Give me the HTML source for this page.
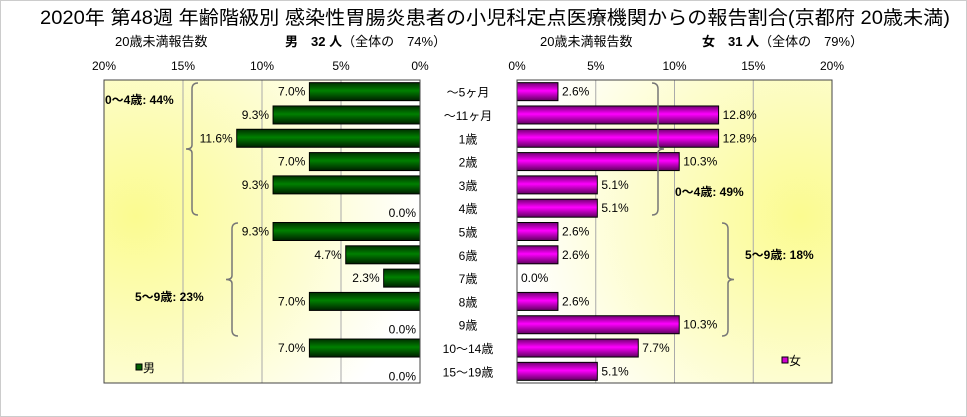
<!DOCTYPE html>
<html><head><meta charset="utf-8"><style>
body{margin:0;background:#fff;}
svg{display:block;font-family:"Liberation Sans","Noto Sans CJK JP",sans-serif;}
</style></head><body>
<svg width="967" height="417" viewBox="0 0 967 417">
<defs>
<radialGradient id="bgL" cx="0.1" cy="0.45" r="0.9">
<stop offset="0" stop-color="#fbfb90"/><stop offset="0.6" stop-color="#fdfdd0"/><stop offset="1" stop-color="#ffffff"/></radialGradient>
<radialGradient id="bgR" cx="0.9" cy="0.45" r="0.9">
<stop offset="0" stop-color="#fbfb90"/><stop offset="0.6" stop-color="#fdfdd0"/><stop offset="1" stop-color="#ffffff"/></radialGradient>
<linearGradient id="gG" x1="0" y1="0" x2="0" y2="1">
<stop offset="0" stop-color="#003000"/><stop offset="0.45" stop-color="#008000"/><stop offset="1" stop-color="#002000"/></linearGradient>
<linearGradient id="gM" x1="0" y1="0" x2="0" y2="1">
<stop offset="0" stop-color="#700070"/><stop offset="0.45" stop-color="#ff00ff"/><stop offset="1" stop-color="#600060"/></linearGradient>
</defs>
<rect x="0.5" y="0.5" width="966" height="416" fill="#fff" stroke="#ccc"/>
<text x="495" y="24" text-anchor="middle" font-size="19" textLength="910" lengthAdjust="spacingAndGlyphs" fill="#000">2020年 第48週 年齢階級別 感染性胃腸炎患者の小児科定点医療機関からの報告割合(京都府 20歳未満)</text>
<text x="115" y="46" font-size="13">20歳未満報告数</text>
<text x="285" y="46" font-size="13"><tspan font-weight="bold">男　32 人</tspan>（全体の　74%）</text>
<text x="540" y="46" font-size="13">20歳未満報告数</text>
<text x="702" y="46" font-size="13"><tspan font-weight="bold">女　31 人</tspan>（全体の　79%）</text>
<g id="g"></g>
</svg>
<script>
const categories=["～5ヶ月","～11ヶ月","1歳","2歳","3歳","4歳","5歳","6歳","7歳","8歳","9歳","10～14歳","15～19歳"];
const maleValues=[7.0,9.3,11.6,7.0,9.3,0.0,9.3,4.7,2.3,7.0,0.0,7.0,0.0];
const femaleValues=[2.6,12.8,12.8,10.3,5.1,5.1,2.6,2.6,0.0,2.6,10.3,7.7,5.1];
const tickValues=[0,5,10,15,20];
const tickLabels=["0%","5%","10%","15%","20%"];
const NS="http://www.w3.org/2000/svg";
const g=document.getElementById('g');
const top0=80,bot=383,rowH=(bot-top0)/categories.length,barH=18;
const L0=420,L20=104,R0=517,R20=832;
const xL=v=>L0-(v/20)*(L0-L20);
const xR=v=>R0+(v/20)*(R20-R0);
const y=i=>top0+rowH*(i+0.5);
function mk(t,a){const e=document.createElementNS(NS,t);for(const k in a)e.setAttribute(k,a[k]);g.appendChild(e);return e;}
let e=mk('rect',{x:L20,y:top0,width:L0-L20,height:bot-top0,fill:'url(#bgL)'});


e=mk('rect',{x:R0,y:top0,width:R20-R0,height:bot-top0,fill:'url(#bgR)'});


tickValues.forEach((v,i)=>{
 if(v>0&&v<20){
  e=mk('line',{x1:xL(v),x2:xL(v),y1:top0,y2:bot,stroke:'#aaa'});
  
  
  e=mk('line',{x1:xR(v),x2:xR(v),y1:top0,y2:bot,stroke:'#aaa'});
  
  
 }
 e=mk('text',{x:xL(v),y:70,'text-anchor':'middle','font-size':12});
 e.textContent=tickLabels[i];
 
 
 e=mk('text',{x:xR(v),y:70,'text-anchor':'middle','font-size':12});
 e.textContent=tickLabels[i];
 
 
});
categories.forEach((c,i)=>{
 const yc=y(i);
 const m=maleValues[i],f=femaleValues[i];
 if(m>0){e=mk('rect',{x:xL(m),y:yc-barH/2,width:L0-xL(m),height:barH,fill:'url(#gG)',stroke:'#000'});
 
 }
 e=mk('text',{x:xL(m)-4,y:yc+(m>0?4:9),'text-anchor':'end','font-size':12});
 e.textContent=m.toFixed(1)+'%';
 
 
 if(f>0){e=mk('rect',{x:R0,y:yc-barH/2,width:xR(f)-R0,height:barH,fill:'url(#gM)',stroke:'#000'});
 
 }
 e=mk('text',{x:xR(f)+4,y:yc+4,'text-anchor':'start','font-size':12});
 e.textContent=f.toFixed(1)+'%';
 
 
 e=mk('text',{x:468,y:yc+5,'text-anchor':'middle','font-size':12});
 e.textContent=c;
 
 
});
e=mk('rect',{x:L20,y:top0,width:L0-L20,height:bot-top0,fill:'none',stroke:'#444'});


e=mk('rect',{x:R0,y:top0,width:R20-R0,height:bot-top0,fill:'none',stroke:'#444'});


function brace(x,y1,y2,dir){const ym=(y1+y2)/2,d=dir*6;
 return `M${x+d},${y1} Q${x},${y1} ${x},${y1+6} L${x},${ym-4} Q${x},${ym} ${x-d},${ym} Q${x},${ym} ${x},${ym+4} L${x},${y2-6} Q${x},${y2} ${x+d},${y2}`;}
e=mk('path',{d:brace(192,83,215,1),fill:'none',stroke:'#777','stroke-width':1.5});


e=mk('path',{d:brace(232,223,336,1),fill:'none',stroke:'#777','stroke-width':1.5});


e=mk('path',{d:brace(658,83,215,-1),fill:'none',stroke:'#777','stroke-width':1.5});


e=mk('path',{d:brace(728,223,336,-1),fill:'none',stroke:'#777','stroke-width':1.5});


const grp=[[105,104,'0～4歳: 44%','start'],[135,301,'5～9歳: 23%','start'],[675,196,'0～4歳: 49%','start'],[745,259,'5～9歳: 18%','start']];
grp.forEach(a=>{e=mk('text',{x:a[0],y:a[1],'font-size':12,'font-weight':'bold','text-anchor':a[3]});
 e.textContent=a[2];
 
 });
e=mk('rect',{x:136,y:364,width:6,height:6,fill:'#006000',stroke:'#000'});


e=mk('text',{x:143,y:372,'font-size':12});e.textContent='男';


e=mk('rect',{x:782,y:357,width:6,height:6,fill:'#d000d0',stroke:'#000'});


e=mk('text',{x:789,y:365,'font-size':12});e.textContent='女';


</script>
</body></html>
